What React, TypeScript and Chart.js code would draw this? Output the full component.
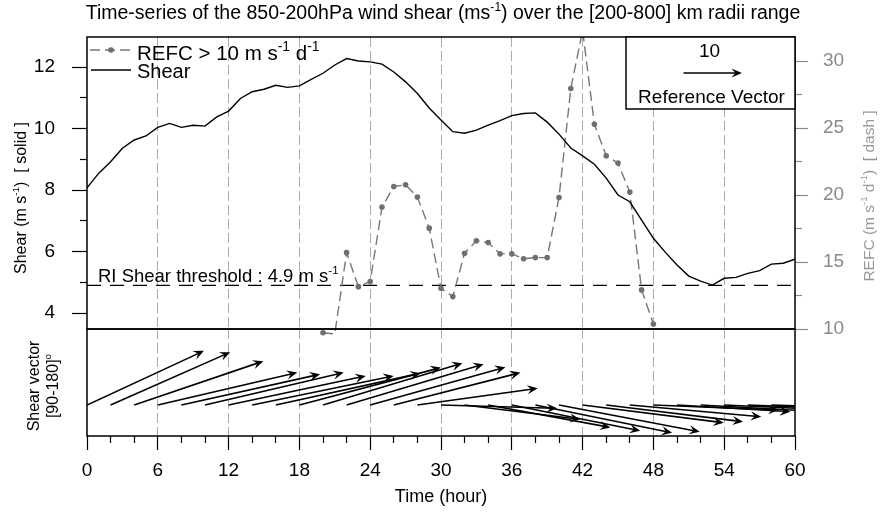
import React, { useEffect, useRef } from 'react';
import { Chart, registerables } from 'chart.js';

Chart.register(...registerables);

const FONT = "'Liberation Sans', Arial, Helvetica, sans-serif";
const W = 883;
const H = 514;
const PANEL_TOP = 37;
const PANEL_MID = 329;
const PANEL_BOTTOM = 436;
const LEFT_W = 87;
const RIGHT_W = 88;

// ---------- data ----------
const shearHours = Array.from({ length: 61 }, (_, i) => i);
const shearValues = [
  8.07, 8.55, 8.92, 9.36, 9.63, 9.76, 10.04, 10.17, 10.04, 10.11,
  10.08, 10.38, 10.57, 10.98, 11.2, 11.28, 11.41, 11.34, 11.39, 11.6,
  11.8, 12.07, 12.28, 12.2, 12.17, 12.1, 11.84, 11.52, 11.14, 10.67,
  10.28, 9.9, 9.85, 9.95, 10.11, 10.26, 10.42, 10.49, 10.51, 10.21,
  9.82, 9.37, 9.11, 8.84, 8.39, 7.84, 7.62, 7.02, 6.43, 5.98,
  5.56, 5.2, 5.04, 4.91, 5.13, 5.16, 5.29, 5.38, 5.59, 5.62,
  5.75,
];
const refcHours = Array.from({ length: 29 }, (_, i) => 20 + i);
const refcValues = [
  9.72, 9.63, 15.7, 13.16, 13.54, 19.1, 20.64, 20.77, 19.85, 17.53,
  13.04, 12.42, 15.66, 16.58, 16.45, 15.61, 15.61, 15.24, 15.33, 15.33,
  19.82, 27.95, 32.3, 25.28, 22.94, 22.39, 20.22, 12.92, 10.37,
];
const thresholdValue = 4.9;
const vectorHours = Array.from({ length: 31 }, (_, i) => i * 2);
const vectorU = [
  20.0, 20.46, 22.08, 23.84, 23.72, 23.72, 23.45, 24.19, 24.75, 24.19,
  23.84, 23.43, 23.12, 21.65, 20.57, 19.85, 19.79, 20.89, 21.96, 23.38,
  24.07, 24.13, 23.41, 22.47, 21.44, 19.38, 19.6, 20.1, 19.8, 20.4,
  20.0,
];
const vectorV = [
  9.26, 9.04, 7.5, 5.54, 5.27, 5.54, 4.97, 4.97, 5.44, 6.4,
  7.15, 6.98, 6.47, 5.54, 2.86, -0.57, -2.45, -3.83, -4.41, -4.75,
  -4.58, -3.04, -2.86, -2.01, -0.86, -1.15, -1.1, -0.9, -0.8, -0.6,
  -0.5,
];
const referenceVector = 10;

const xMajorTicks = [0, 6, 12, 18, 24, 30, 36, 42, 48, 54, 60];
const xMinorTicks = [2, 4, 8, 10, 14, 16, 20, 22, 26, 28, 32, 34, 38, 40, 44, 46, 50, 52, 56, 58];
const shearTicks = [4, 6, 8, 10, 12];
const shearMinorTicks = [5, 7, 9, 11];
const refcTicks = [10, 15, 20, 25, 30];
const refcMinorTicks = [12.5, 17.5, 22.5, 27.5];

const SHEAR_MIN = 3.48;
const SHEAR_MAX = 12.98;
const REFC_MIN = 10;
const REFC_MAX = 31.8;
const VEC_MIN = -5.3;
const VEC_MAX = 13.0;

// ---------- helpers ----------
type Part = { t: string; sup?: boolean };

function drawRich(
  ctx: CanvasRenderingContext2D,
  parts: Part[],
  x: number,
  y: number,
  size: number,
  align: 'left' | 'center' | 'right',
  color: string,
  supScale = 0.62
) {
  const sup = size * supScale;
  const ws = parts.map((p) => {
    ctx.font = `${p.sup ? sup : size}px ${FONT}`;
    return ctx.measureText(p.t).width;
  });
  const total = ws.reduce((s, w) => s + w, 0);
  let cx = align === 'left' ? x : align === 'center' ? x - total / 2 : x - total;
  ctx.fillStyle = color;
  ctx.textAlign = 'left';
  ctx.textBaseline = 'alphabetic';
  parts.forEach((p, i) => {
    ctx.font = `${p.sup ? sup : size}px ${FONT}`;
    ctx.fillText(p.t, cx, p.sup ? y - size * 0.42 : y);
    cx += ws[i];
  });
  return total;
}

function drawRotated(
  ctx: CanvasRenderingContext2D,
  parts: Part[],
  cx: number,
  cy: number,
  size: number,
  color: string
) {
  ctx.save();
  ctx.translate(cx, cy);
  ctx.rotate(-Math.PI / 2);
  drawRich(ctx, parts, 0, size * 0.36, size, 'center', color);
  ctx.restore();
}

function drawArrow(ctx: CanvasRenderingContext2D, x0: number, y0: number, x1: number, y1: number) {
  const ang = Math.atan2(y1 - y0, x1 - x0);
  const c = Math.cos(ang);
  const s = Math.sin(ang);
  const L = 10.5;
  const Wd = 4.6;
  const N = 6.5;
  ctx.beginPath();
  ctx.moveTo(x0, y0);
  ctx.lineTo(x1 - c * 3, y1 - s * 3);
  ctx.stroke();
  ctx.beginPath();
  ctx.moveTo(x1, y1);
  ctx.lineTo(x1 - c * L - s * Wd, y1 - s * L + c * Wd);
  ctx.lineTo(x1 - c * N, y1 - s * N);
  ctx.lineTo(x1 - c * L + s * Wd, y1 - s * L - c * Wd);
  ctx.closePath();
  ctx.fill();
}

const ticksFrom = (arr: number[]) => (scale: any) => {
  scale.ticks = arr.map((v) => ({ value: v }));
};

const gridColor = (c: any) =>
  c.tick && (c.tick.value === 0 || c.tick.value === 60) ? 'rgba(0,0,0,0)' : '#ababab';

// ---------- plugins ----------
const decorA = {
  id: 'decorA',
  afterDraw(chart: any) {
    const { ctx, chartArea: a, scales } = chart;
    ctx.save();
    ctx.strokeStyle = '#000';
    ctx.lineWidth = 1.5;
    ctx.setLineDash([]);
    ctx.strokeRect(a.left, a.top, a.right - a.left, a.bottom - a.top);

    // title
    drawRich(
      ctx,
      [
        { t: 'Time-series of the 850-200hPa wind shear (ms' },
        { t: '-1', sup: true },
        { t: ') over the [200-800] km radii range' },
      ],
      443,
      19,
      19.5,
      'center',
      '#000'
    );

    // legend
    ctx.strokeStyle = '#777';
    ctx.lineWidth = 1.4;
    ctx.setLineDash([10, 5]);
    ctx.beginPath();
    ctx.moveTo(a.left + 3, a.top + 13);
    ctx.lineTo(a.left + 44, a.top + 13);
    ctx.stroke();
    ctx.setLineDash([]);
    ctx.fillStyle = '#6f6f6f';
    ctx.beginPath();
    ctx.arc(a.left + 24, a.top + 13, 2.8, 0, Math.PI * 2);
    ctx.fill();
    drawRich(
      ctx,
      [{ t: 'REFC > 10 m s' }, { t: '-1', sup: true }, { t: ' d' }, { t: '-1', sup: true }],
      a.left + 50,
      a.top + 23,
      20.5,
      'left',
      '#000',
      0.68
    );
    ctx.strokeStyle = '#000';
    ctx.lineWidth = 1.3;
    ctx.beginPath();
    ctx.moveTo(a.left + 4, a.top + 33);
    ctx.lineTo(a.left + 44, a.top + 33);
    ctx.stroke();
    drawRich(ctx, [{ t: 'Shear' }], a.left + 50, a.top + 41, 20, 'left', '#000');

    // threshold label
    const yT = scales.y.getPixelForValue(thresholdValue);
    drawRich(
      ctx,
      [{ t: `RI Shear threshold : ${thresholdValue} m s` }, { t: '-1', sup: true }],
      a.left + 11,
      yT - 3.5,
      18.5,
      'left',
      '#000'
    );

    // axis titles
    drawRotated(
      ctx,
      [{ t: 'Shear (m s' }, { t: '-1', sup: true }, { t: ')  [ solid ]' }],
      20,
      198,
      16,
      '#000'
    );
    drawRotated(
      ctx,
      [{ t: 'REFC (m s' }, { t: '-1', sup: true }, { t: ' d' }, { t: '-1', sup: true }, { t: ')  [ dash ]' }],
      868,
      196,
      15.5,
      '#999'
    );
    ctx.restore();
  },
};

const decorB = {
  id: 'decorB',
  afterDatasetsDraw(chart: any) {
    const { ctx, chartArea: a, scales } = chart;
    const meta = chart.getDatasetMeta(0);
    const pts = chart.data.datasets[0].data;
    const ys = scales.y;
    const unit = ys.getPixelForValue(0) - ys.getPixelForValue(1);
    ctx.save();
    ctx.beginPath();
    ctx.rect(a.left, a.top, a.right - a.left, a.bottom - a.top);
    ctx.clip();
    ctx.strokeStyle = '#000';
    ctx.fillStyle = '#000';
    ctx.lineWidth = 1.6;
    meta.data.forEach((el: any, i: number) => {
      const d = pts[i];
      drawArrow(ctx, el.x, el.y, el.x + d.u * unit, ys.getPixelForValue(d.v));
    });
    ctx.restore();
  },
  afterDraw(chart: any) {
    const { ctx, chartArea: a, scales } = chart;
    const ys = scales.y;
    const unit = ys.getPixelForValue(0) - ys.getPixelForValue(1);
    ctx.save();
    ctx.strokeStyle = '#000';
    ctx.lineWidth = 1.5;
    ctx.strokeRect(a.left, a.top, a.right - a.left, a.bottom - a.top);

    // bottom-left axis title
    drawRotated(ctx, [{ t: 'Shear vector' }], 33, 386, 16, '#000');
    drawRotated(ctx, [{ t: '[90-180]' }, { t: 'o', sup: true }], 52, 386, 16, '#000');

    // reference vector box
    const bw = 169;
    const bh = 72;
    const bx = a.right - bw;
    const by = PANEL_TOP;
    ctx.fillStyle = '#fff';
    ctx.fillRect(bx, by, bw, bh);
    ctx.strokeRect(bx, by, bw, bh);
    const cx = bx + bw / 2;
    drawRich(ctx, [{ t: String(referenceVector) }], cx - 1, by + 20, 19, 'center', '#000');
    ctx.fillStyle = '#000';
    ctx.lineWidth = 1.6;
    const len = referenceVector * unit;
    drawArrow(ctx, cx - 27, by + 36, cx - 27 + len, by + 36);
    drawRich(ctx, [{ t: 'Reference Vector' }], cx + 1, by + 66, 19, 'center', '#000');
    ctx.restore();
  },
};

function buildTopChart(canvas: HTMLCanvasElement) {
  return new Chart(canvas, {
    type: 'line',
    data: {
      datasets: [
        {
          label: 'Shear',
          data: shearHours.map((h, i) => ({ x: h, y: shearValues[i] })),
          yAxisID: 'y',
          xAxisID: 'x',
          borderColor: '#000',
          borderWidth: 1.4,
          pointRadius: 0,
          tension: 0,
        },
        {
          label: 'REFC > 10 m/s/d',
          data: refcHours.map((h, i) => ({ x: h, y: refcValues[i] })),
          yAxisID: 'yR',
          xAxisID: 'x',
          borderColor: '#777',
          borderWidth: 1.4,
          borderDash: [10, 5],
          pointRadius: 2.8,
          pointBackgroundColor: '#6f6f6f',
          pointBorderWidth: 0,
          tension: 0,
          clip: { left: 0, top: 0, right: 0, bottom: false } as any,
        },
        {
          label: 'RI threshold',
          data: [
            { x: 0, y: thresholdValue },
            { x: 60, y: thresholdValue },
          ],
          yAxisID: 'y',
          xAxisID: 'x',
          borderColor: '#000',
          borderWidth: 1.3,
          borderDash: [14, 9],
          pointRadius: 0,
        },
      ],
    },
    options: {
      responsive: false,
      animation: false,
      events: [],
      layout: { padding: { left: 0, right: 0, top: PANEL_TOP, bottom: H - PANEL_MID } },
      plugins: { legend: { display: false }, tooltip: { enabled: false }, title: { display: false } },
      scales: {
        x: {
          type: 'linear',
          position: 'bottom',
          min: 0,
          max: 60,
          afterBuildTicks: ticksFrom(xMajorTicks),
          ticks: { display: false },
          grid: { color: gridColor, lineWidth: 1, drawTicks: false, drawOnChartArea: true },
          border: { display: false, dash: [10, 4] },
          afterFit: (s: any) => {
            s.height = 0;
          },
        },
        y: {
          type: 'linear',
          position: 'left',
          weight: 1,
          min: SHEAR_MIN,
          max: SHEAR_MAX,
          afterBuildTicks: ticksFrom(shearTicks),
          ticks: { font: { family: FONT, size: 19 }, color: '#000', padding: 17 },
          grid: { drawOnChartArea: false, drawTicks: true, tickLength: 15, tickColor: '#000', tickWidth: 1.2 },
          border: { display: false },
          afterFit: (s: any) => {
            s.width = LEFT_W;
          },
        },
        yMinor: {
          type: 'linear',
          position: 'left',
          weight: 0,
          min: SHEAR_MIN,
          max: SHEAR_MAX,
          afterBuildTicks: ticksFrom(shearMinorTicks),
          ticks: { display: false },
          grid: { drawOnChartArea: false, drawTicks: true, tickLength: 7, tickColor: '#000', tickWidth: 1.2 },
          border: { display: false },
          afterFit: (s: any) => {
            s.width = 0;
          },
        },
        yR: {
          type: 'linear',
          position: 'right',
          weight: 1,
          min: REFC_MIN,
          max: REFC_MAX,
          afterBuildTicks: ticksFrom(refcTicks),
          ticks: { font: { family: FONT, size: 19 }, color: '#8a8a8a', padding: 15 },
          grid: { drawOnChartArea: false, drawTicks: true, tickLength: 13, tickColor: '#8a8a8a', tickWidth: 1.2 },
          border: { display: false },
          afterFit: (s: any) => {
            s.width = RIGHT_W;
          },
        },
        yRMinor: {
          type: 'linear',
          position: 'right',
          weight: 0,
          min: REFC_MIN,
          max: REFC_MAX,
          afterBuildTicks: ticksFrom(refcMinorTicks),
          ticks: { display: false },
          grid: { drawOnChartArea: false, drawTicks: true, tickLength: 7, tickColor: '#8a8a8a', tickWidth: 1.2 },
          border: { display: false },
          afterFit: (s: any) => {
            s.width = 0;
          },
        },
      },
    } as any,
    plugins: [decorA],
  });
}

function buildBottomChart(canvas: HTMLCanvasElement) {
  return new Chart(canvas, {
    type: 'line',
    data: {
      datasets: [
        {
          label: 'Shear vector',
          data: vectorHours.map((h, i) => ({ x: h, y: 0, u: vectorU[i], v: vectorV[i] })) as any,
          xAxisID: 'x',
          yAxisID: 'y',
          showLine: false,
          pointRadius: 0,
        },
      ],
    },
    options: {
      responsive: false,
      animation: false,
      events: [],
      layout: { padding: { left: LEFT_W, right: RIGHT_W, top: PANEL_MID, bottom: 0 } },
      plugins: { legend: { display: false }, tooltip: { enabled: false }, title: { display: false } },
      scales: {
        x: {
          type: 'linear',
          position: 'bottom',
          weight: 1,
          min: 0,
          max: 60,
          afterBuildTicks: ticksFrom(xMajorTicks),
          ticks: { font: { family: FONT, size: 19 }, color: '#000', padding: 9, maxRotation: 0, autoSkip: false },
          grid: { color: gridColor, lineWidth: 1, drawTicks: true, tickLength: 14, tickColor: '#000', tickWidth: 1.2 },
          border: { display: false, dash: [10, 4] },
          title: {
            display: true,
            text: 'Time (hour)',
            font: { family: FONT, size: 18 },
            color: '#000',
            padding: { top: 0, bottom: 6 },
          },
          afterFit: (s: any) => {
            s.height = H - PANEL_BOTTOM;
          },
        },
        xMinor: {
          type: 'linear',
          position: 'bottom',
          weight: 0,
          min: 0,
          max: 60,
          afterBuildTicks: ticksFrom(xMinorTicks),
          ticks: { display: false },
          grid: { drawOnChartArea: false, drawTicks: true, tickLength: 7, tickColor: '#000', tickWidth: 1.2 },
          border: { display: false },
          afterFit: (s: any) => {
            s.height = 0;
          },
        },
        y: {
          type: 'linear',
          display: false,
          min: VEC_MIN,
          max: VEC_MAX,
        },
      },
    } as any,
    plugins: [decorB],
  });
}

export default function App() {
  const refA = useRef<HTMLCanvasElement>(null);
  const refB = useRef<HTMLCanvasElement>(null);
  useEffect(() => {
    const a = buildTopChart(refA.current as HTMLCanvasElement);
    const b = buildBottomChart(refB.current as HTMLCanvasElement);
    return () => {
      a.destroy();
      b.destroy();
    };
  }, []);
  return (
    <div style={{ position: 'absolute', left: 0, top: 0, width: W, height: H, background: '#fff' }}>
      <canvas ref={refA} width={W} height={H} style={{ position: 'absolute', left: 0, top: 0 }} />
      <canvas ref={refB} width={W} height={H} style={{ position: 'absolute', left: 0, top: 0 }} />
    </div>
  );
}
